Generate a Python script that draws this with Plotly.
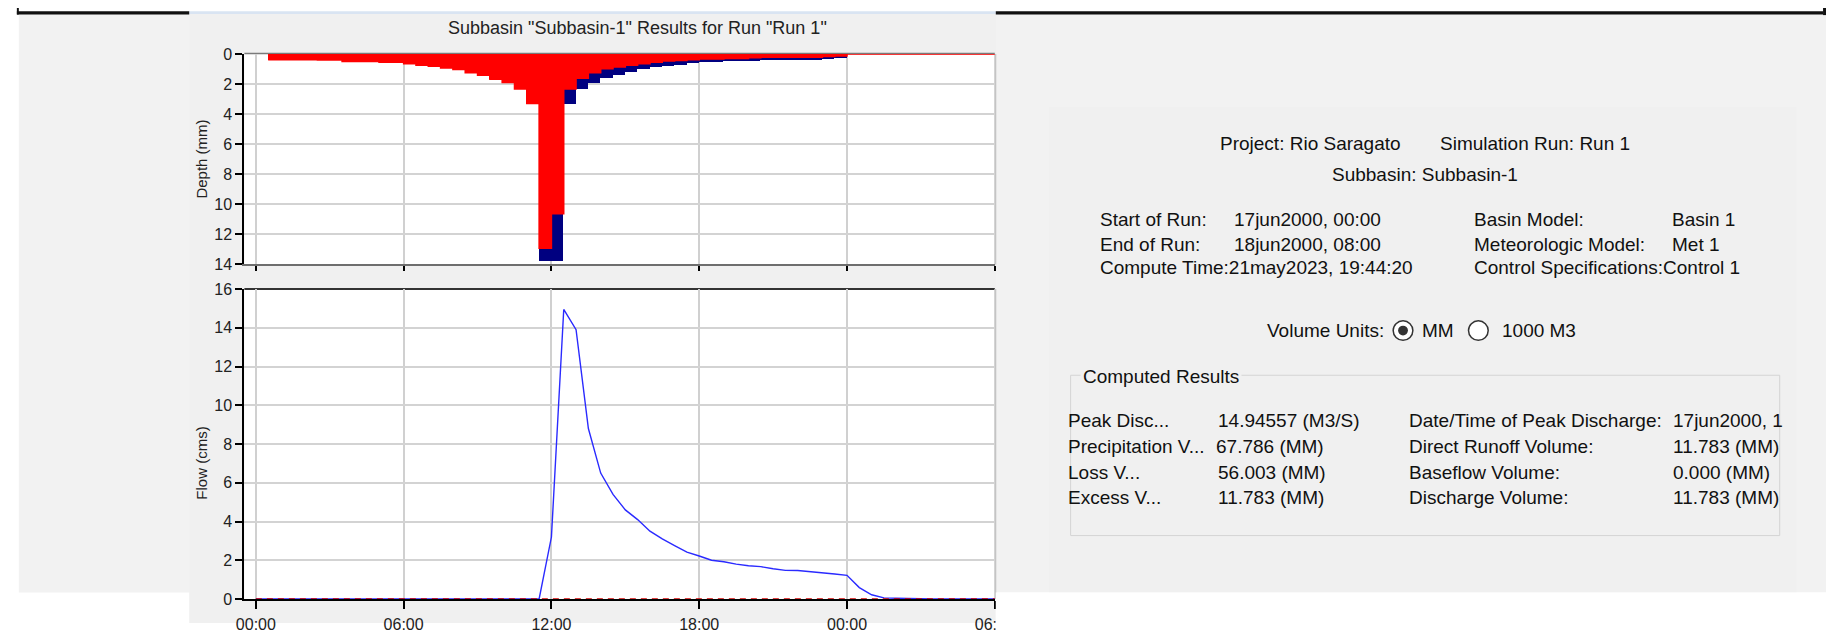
import plotly.graph_objects as go
import pandas as pd

W, H = 1846, 633

# ---------------- data ----------------
# 30-minute precipitation intervals (start times), 17jun2000 00:30 -> 18jun2000 07:30
precip_interval_start = pd.date_range("2000-06-17 00:30", "2000-06-18 07:30", freq="30min")
loss_mm = [
    0.38, 0.38, 0.39, 0.39, 0.40, 0.40,
    0.50, 0.50, 0.50,
    0.56, 0.56,
    0.65, 0.75, 0.82, 0.93, 1.03, 1.25, 1.42, 1.68, 1.90, 2.33, 3.30,
    12.92, 10.62,
    2.33, 1.62, 1.25, 0.99, 0.86, 0.75, 0.65, 0.56, 0.47, 0.43, 0.39, 0.34,
    0.34, 0.30, 0.30, 0.26,
    0.22, 0.22, 0.22, 0.22, 0.22, 0.17, 0.13,
    0.0, 0.0, 0.0, 0.0, 0.0, 0.0, 0.0, 0.0,
    0.0, 0.0, 0.0, 0.0, 0.0, 0.0, 0.0, 0.0,
]
excess_mm = [
    0.0, 0.0, 0.0, 0.0, 0.0, 0.0, 0.0, 0.0, 0.0, 0.0, 0.0,
    0.0, 0.0, 0.0, 0.0, 0.0, 0.0, 0.0, 0.0, 0.0, 0.0, 0.0,
    0.82, 3.12,
    0.97, 0.71, 0.65, 0.63, 0.56, 0.46, 0.34, 0.32, 0.35, 0.28, 0.21, 0.22,
    0.22, 0.17, 0.17, 0.19,
    0.17, 0.17, 0.17, 0.17, 0.17, 0.17, 0.15,
    0.0, 0.0, 0.0, 0.0, 0.0, 0.0, 0.0, 0.0,
    0.0, 0.0, 0.0, 0.0, 0.0, 0.0, 0.0, 0.0,
]

# outflow hydrograph, every 30 min, 17jun2000 00:00 -> 18jun2000 08:00
flow_time = pd.date_range("2000-06-17 00:00", "2000-06-18 08:00", freq="30min")
outflow_cms = [
    0.0, 0.0, 0.0, 0.0, 0.0, 0.0, 0.0, 0.0, 0.0, 0.0, 0.0, 0.0,
    0.0, 0.0, 0.0, 0.0, 0.0, 0.0, 0.0, 0.0, 0.0, 0.0, 0.0, 0.0,
    3.2, 14.95, 13.9, 8.8, 6.5, 5.4, 4.6, 4.1, 3.5, 3.1, 2.76, 2.42,
    2.22, 2.0, 1.92, 1.8, 1.72, 1.67, 1.56, 1.48, 1.47, 1.42, 1.35, 1.29,
    1.22, 0.59, 0.22, 0.06, 0.04, 0.02, 0.0,
    0.0, 0.0, 0.0, 0.0, 0.0, 0.0, 0.0, 0.0, 0.0, 0.0,
]
baseflow_cms = [
    0.0, 0.0, 0.0, 0.0, 0.0, 0.0, 0.0, 0.0, 0.0, 0.0, 0.0, 0.0, 0.0,
    0.0, 0.0, 0.0, 0.0, 0.0, 0.0, 0.0, 0.0, 0.0, 0.0, 0.0, 0.0, 0.0,
    0.0, 0.0, 0.0, 0.0, 0.0, 0.0, 0.0, 0.0, 0.0, 0.0, 0.0, 0.0, 0.0,
    0.0, 0.0, 0.0, 0.0, 0.0, 0.0, 0.0, 0.0, 0.0, 0.0, 0.0, 0.0, 0.0,
    0.0, 0.0, 0.0, 0.0, 0.0, 0.0, 0.0, 0.0, 0.0, 0.0, 0.0, 0.0, 0.0,
]

header_lines = [
    ("Project: Rio Saragato", 1229, 139), ("Simulation Run: Run 1", 1452, 139),
    ("Subbasin: Subbasin-1", 1342, 171),
    ("Start of Run:", 1107, 218), ("17jun2000, 00:00", 1243, 218),
    ("Basin Model:", 1487, 218), ("Basin 1", 1688, 218),
    ("End of Run:", 1107, 243), ("18jun2000, 08:00", 1243, 243),
    ("Meteorologic Model:", 1487, 243), ("Met 1", 1688, 243),
    ("Compute Time:21may2023, 19:44:20", 1107, 267),
    ("Control Specifications:Control 1", 1487, 267),
    ("Volume Units:", 1276, 332), ("MM", 1434, 332), ("1000 M3", 1515, 332),
]
result_lines = [
    ("Peak Disc...", 1074, 425), ("14.94557 (M3/S)", 1227, 425),
    ("Date/Time of Peak Discharge:", 1421, 425), ("17jun2000, 1", 1689, 425),
    ("Precipitation V...", 1074, 451), ("67.786 (MM)", 1225, 451),
    ("Direct Runoff Volume:", 1421, 451), ("11.783 (MM)", 1689, 451),
    ("Loss V...", 1074, 478), ("56.003 (MM)", 1227, 478),
    ("Baseflow Volume:", 1421, 478), ("0.000 (MM)", 1689, 478),
    ("Excess V...", 1074, 504), ("11.783 (MM)", 1227, 504),
    ("Discharge Volume:", 1421, 504), ("11.783 (MM)", 1689, 504),
]

# ---------------- helpers ----------------
def px(x):
    return x / W


def py(y):
    return 1 - y / H


X0, X1 = 240, 1002
TOP_Y0, TOP_Y1 = 47.3, 264
BOT_Y0, BOT_Y1 = 289.3, 608.3
FONT = "Liberation Sans, Arial, sans-serif"

bar_mid = precip_interval_start + pd.Timedelta(minutes=15)

fig = go.Figure()
fig.add_trace(go.Bar(x=bar_mid, y=loss_mm, width=1800000, base=0,
                     marker=dict(color="#ff0000", line=dict(width=0)),
                     xaxis="x", yaxis="y", name="Precipitation Loss"))
fig.add_trace(go.Bar(x=bar_mid, y=excess_mm, width=1800000, base=loss_mm,
                     marker=dict(color="#000080", line=dict(width=0)),
                     xaxis="x", yaxis="y", name="Excess Precipitation"))
fig.add_trace(go.Scatter(x=precip_interval_start, y=loss_mm, mode="lines",
                         line=dict(color="#ff0000", width=1.5, shape="hv"),
                         xaxis="x", yaxis="y", name="loss outline"))

fig.add_trace(go.Scatter(x=flow_time, y=outflow_cms, mode="lines",
                         line=dict(color="#2a2aff", width=1.4),
                         xaxis="x2", yaxis="y2", name="Outflow"))
fig.add_trace(go.Scatter(x=flow_time, y=baseflow_cms, mode="lines",
                         line=dict(color="#d00000", width=1.4, dash="6px,5px"),
                         xaxis="x2", yaxis="y2", name="Baseflow"))

xr = ["2000-06-16 23:32", "2000-06-18 06:00"]
common_x = dict(type="date", range=xr, tick0="2000-06-17 00:00", dtick=21600000,
                tickformat="%H:%M", showgrid=True, gridcolor="#d0d0d0", gridwidth=1.5,
                zeroline=False, ticks="outside", tickcolor="#000", tickwidth=1.5,
                tickfont=dict(family=FONT, size=16, color="#222"))
common_y = dict(showgrid=True, gridcolor="#d3d3d3", gridwidth=1.5, zeroline=False,
                ticks="outside", ticklen=7, tickcolor="#000", tickwidth=1.5,
                showline=True, linecolor="#000", linewidth=2,
                tickfont=dict(family=FONT, size=16, color="#222"))

shapes = []


def rect(x0, y0, x1, y1, color, layer="below"):
    shapes.append(dict(type="rect", xref="paper", yref="paper",
                       x0=px(x0), x1=px(x1), y0=py(y1), y1=py(y0),
                       fillcolor=color, line=dict(width=0), layer=layer))


def hline(x0, x1, y, color, width, layer="below"):
    shapes.append(dict(type="line", xref="paper", yref="paper",
                       x0=px(x0), x1=px(x1), y0=py(y), y1=py(y),
                       line=dict(color=color, width=width), layer=layer))


def vline(x, y0, y1, color, width, layer="below"):
    shapes.append(dict(type="line", xref="paper", yref="paper",
                       x0=px(x), x1=px(x), y0=py(y0), y1=py(y1),
                       line=dict(color=color, width=width), layer=layer))


# backgrounds
rect(11, 6.5, W, 601.7, "#f2f2f2")
rect(1057, 102, 1816, 601.7, "#f0f0f0")
rect(184, 6.3, 1003, H, "#f0f0f0")
rect(184, 3.3, 1003, 6.3, "#d9e4f2")
rect(9, 3.3, 184, 6.7, "#111")
rect(9, 0, 11, 6.7, "#111")
rect(1003, 3.3, 1843, 6.7, "#111")
rect(1843, 0, W, 7.3, "#111")
# plot areas
rect(X0, TOP_Y0, X1, TOP_Y1, "#ffffff")
rect(X0, BOT_Y0, X1, BOT_Y1, "#ffffff")
# frames
hline(X0, X1, TOP_Y0 - 0.5, "#7a7a7a", 1.5)
vline(X1 + 0.5, TOP_Y0, TOP_Y1, "#c4c4c4", 2)
hline(X0, X1, BOT_Y0, "#333333", 2)
vline(X1 + 0.5, BOT_Y0, BOT_Y1, "#c4c4c4", 2)

# group box "Computed Results"
shapes.append(dict(type="rect", xref="paper", yref="paper",
                   x0=px(1079), x1=px(1799), y0=py(543), y1=py(378),
                   line=dict(color="#d4d4d4", width=1), fillcolor="rgba(0,0,0,0)",
                   layer="below"))
# radio buttons
for cx, filled in ((1416.5, True), (1493, False)):
    r = 10
    shapes.append(dict(type="circle", xref="paper", yref="paper",
                       x0=px(cx - r), x1=px(cx + r), y0=py(332 + r), y1=py(332 - r),
                       line=dict(color="#333333", width=1.5), fillcolor="#ffffff",
                       layer="above"))
    if filled:
        r2 = 5
        shapes.append(dict(type="circle", xref="paper", yref="paper",
                           x0=px(cx - r2), x1=px(cx + r2), y0=py(332 + r2), y1=py(332 - r2),
                           line=dict(color="#333333", width=0), fillcolor="#333333",
                           layer="above"))
# white area below the screenshot on the right (cuts the last tick label)
rect(1003, 601.7, W, H + 10, "#ffffff", layer="above")

annotations = []
annotations.append(dict(text='Subbasin "Subbasin-1" Results for Run "Run 1"',
                        x=px(639), y=py(21), xref="paper", yref="paper",
                        xanchor="center", yanchor="middle", showarrow=False,
                        font=dict(family=FONT, size=18, color="#222")))
annotations.append(dict(text="Depth (mm)", x=px(197), y=py(156), xref="paper", yref="paper",
                        xanchor="center", yanchor="middle", showarrow=False, textangle=-90,
                        font=dict(family=FONT, size=15, color="#222")))
annotations.append(dict(text="Flow (cms)", x=px(197), y=py(469), xref="paper", yref="paper",
                        xanchor="center", yanchor="middle", showarrow=False, textangle=-90,
                        font=dict(family=FONT, size=15, color="#222")))
for txt, x, y in header_lines + result_lines:
    annotations.append(dict(text=txt, x=px(x), y=py(y), xref="paper", yref="paper",
                            xanchor="left", yanchor="middle", showarrow=False,
                            font=dict(family=FONT, size=19, color="#111")))
annotations.append(dict(text="Computed Results", x=px(1089), y=py(379), xref="paper", yref="paper",
                        xanchor="left", yanchor="middle", showarrow=False,
                        bgcolor="#f0f0f0", borderpad=2,
                        font=dict(family=FONT, size=19, color="#111")))

fig.update_layout(
    width=W, height=H, margin=dict(l=0, r=0, t=0, b=0), autosize=False,
    paper_bgcolor="#ffffff", plot_bgcolor="rgba(0,0,0,0)",
    showlegend=False, barmode="overlay", bargap=0,
    xaxis=dict(domain=[px(X0), px(X1)], anchor="y", showticklabels=False,
               ticklen=5, showline=True, linecolor="#6e6e6e", linewidth=2, **common_x),
    yaxis=dict(domain=[py(TOP_Y1), py(TOP_Y0)], anchor="x", range=[14, 0],
               tick0=0, dtick=2, **common_y),
    xaxis2=dict(domain=[px(X0), px(X1)], anchor="y2", showticklabels=True,
                ticklen=8, showline=True, linecolor="#000", linewidth=2,
                ticklabelstandoff=2, layer="below traces", **common_x),
    yaxis2=dict(domain=[py(BOT_Y1), py(BOT_Y0)], anchor="x2", range=[0, 16],
                tick0=0, dtick=2, **common_y),
    shapes=shapes, annotations=annotations,
)

fig.write_html("out.html",
               config={"displayModeBar": False},
               post_script="document.body.style.margin='0px';"
                           "document.body.style.overflow='hidden';")
